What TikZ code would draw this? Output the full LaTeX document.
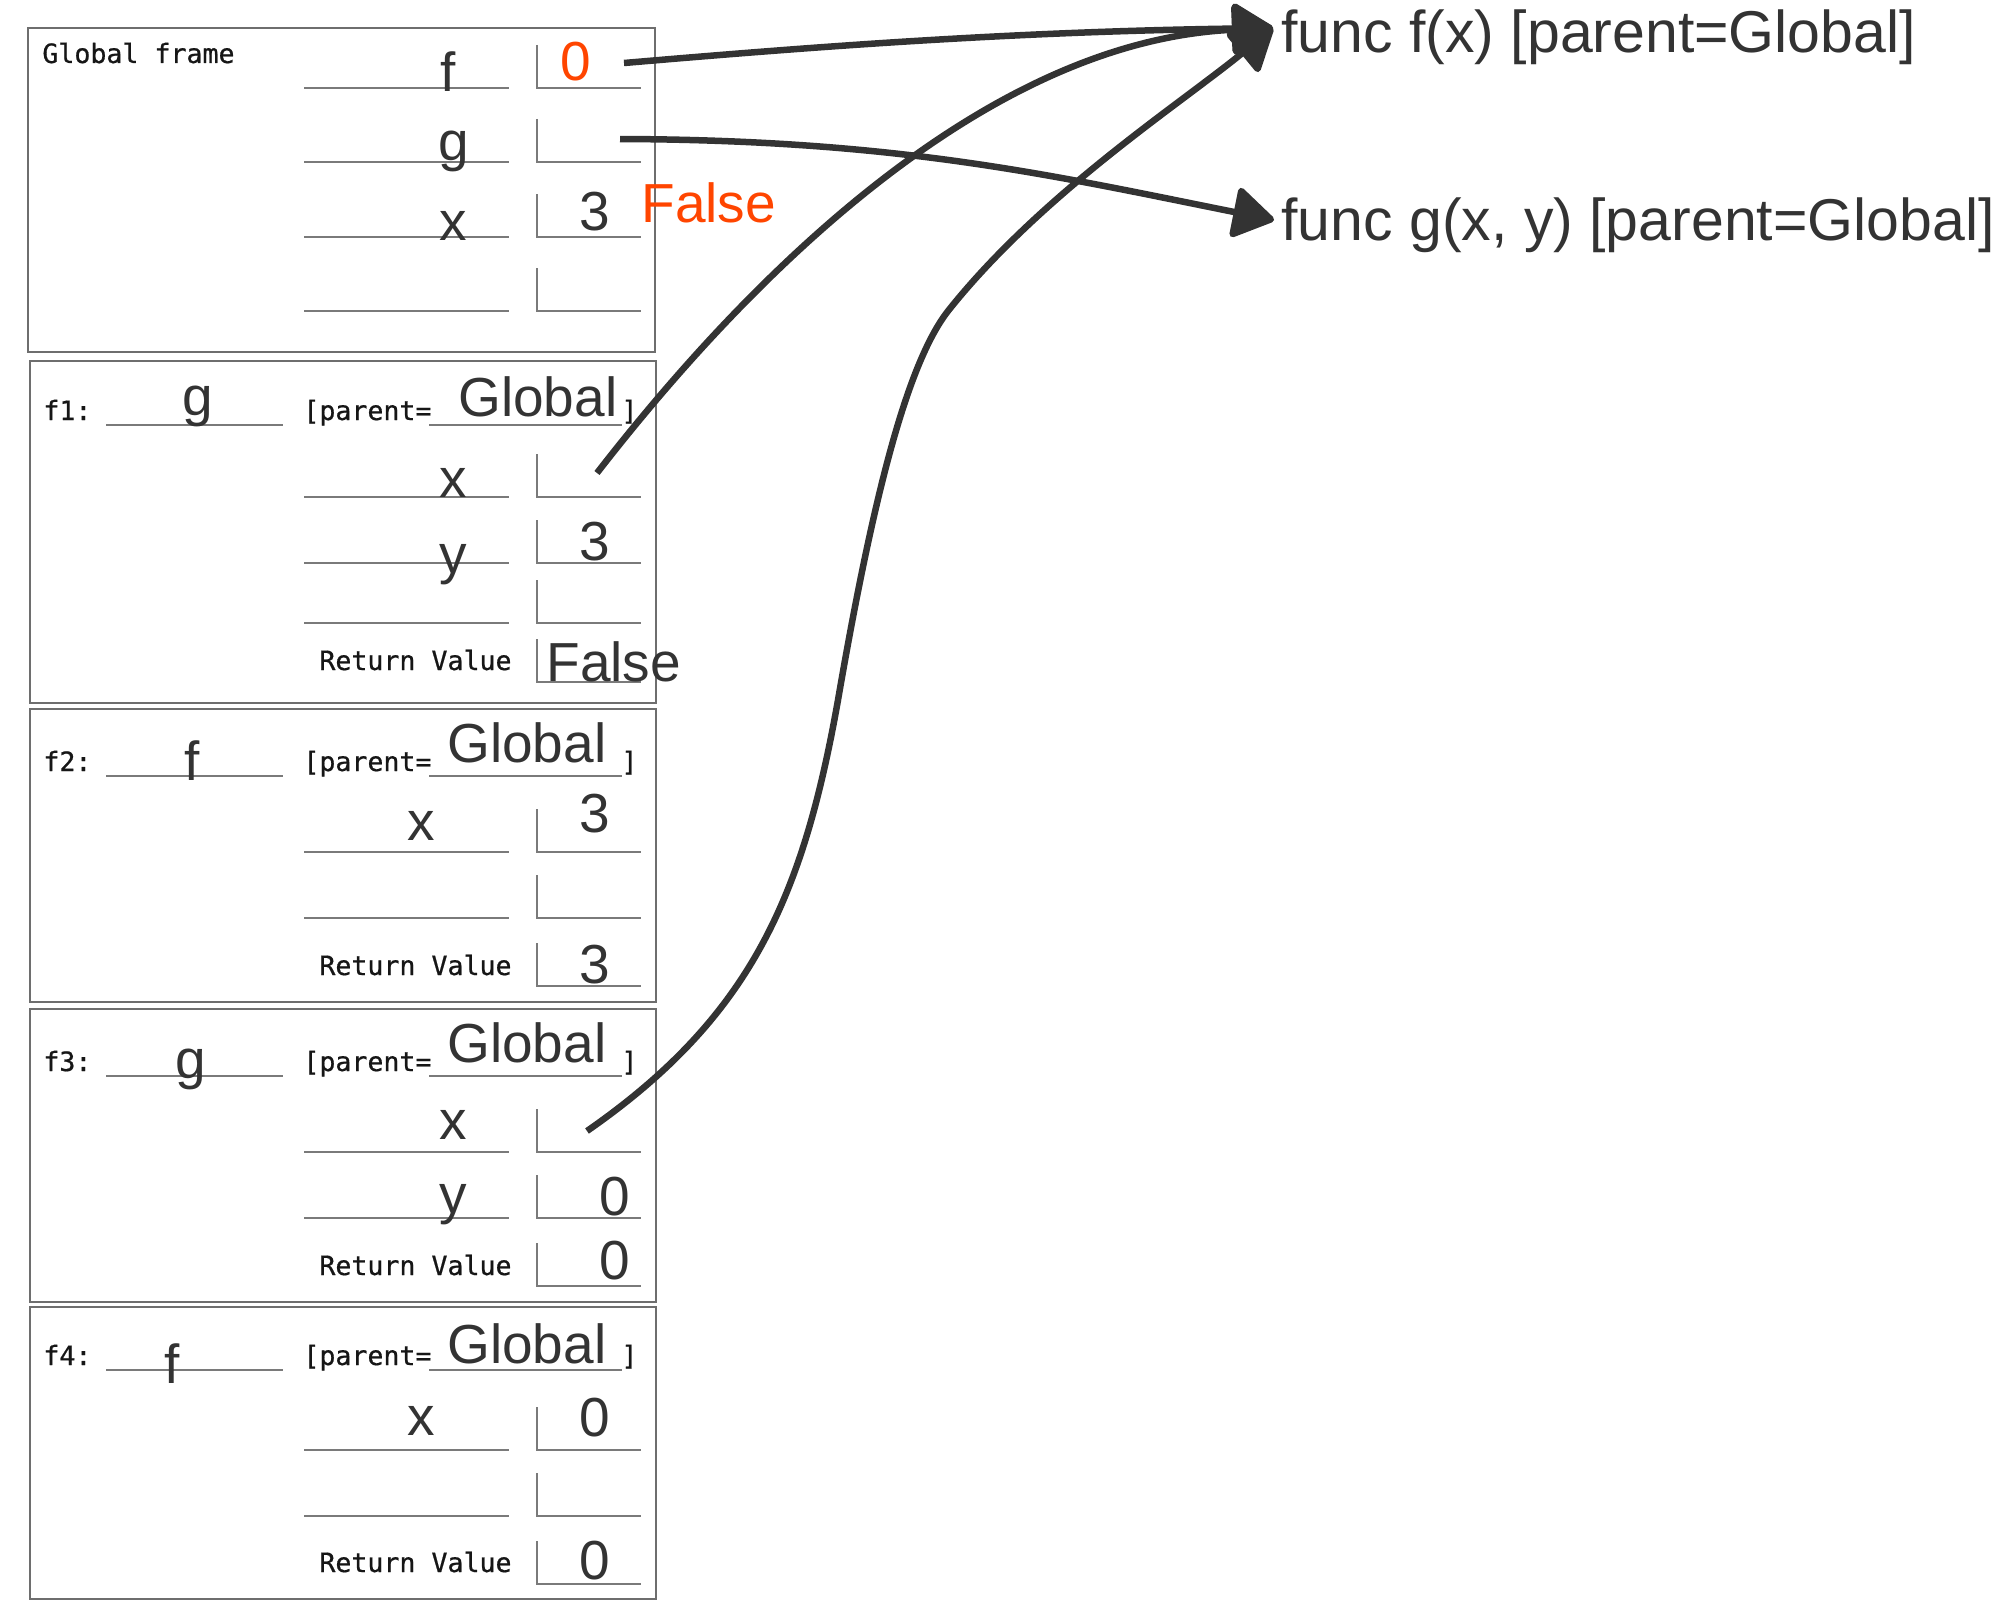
\documentclass[tikz,border=0pt]{standalone}
\usepackage{fontspec}
\usetikzlibrary{arrows.meta}
\newfontfamily\lsansfam{Liberation Sans}
\newfontfamily\dmonofam{DejaVu Sans Mono}[FakeBold=0.7]
\newcommand\bigtxt{\lsansfam\fontsize{27.5pt}{30pt}\selectfont}
\newcommand\functxt{\lsansfam\fontsize{29.5pt}{32pt}\selectfont}
\newcommand\monotxt{\dmonofam\fontsize{13.3pt}{15pt}\selectfont}
\definecolor{ink}{HTML}{333333}
\definecolor{redval}{HTML}{FF4500}
\definecolor{framegray}{HTML}{6E6E6E}
\definecolor{linegray}{HTML}{7A7A7A}
\definecolor{monoink}{HTML}{161616}
\newcommand\slotrow[1]{%
  \draw[uline] (304,#1) -- (509,#1);
  \draw[uline] (537,#1-43) -- (537,#1) -- (641,#1);}
\newcommand\retrow[1]{%
  \draw[uline] (537,#1-43) -- (537,#1) -- (641,#1);}
\newcommand\headrow[2]{%
  \node[mono] (#2lab) at (43,#1) {#2:};
  \draw[uline] (106,#1+5) -- (283,#1+5);
  \node[mono] (#2par) at (303,#1) {[parent=};
  \draw[uline] (429,#1+5) -- (622,#1+5);
  \node[mono] (#2brk) at (621,#1) {]};}
\begin{document}
\begin{tikzpicture}[x=0.5pt,y=-0.5pt,
  frame/.style={draw=framegray, line width=1pt},
  uline/.style={draw=linegray, line width=1.25pt},
  big/.style={font=\bigtxt, text=ink, inner sep=0pt, anchor=base},
  bigl/.style={big, anchor=base west},
  redtxt/.style={big, text=redval},
  mono/.style={font=\monotxt, text=monoink, inner sep=0pt, anchor=base west},
  functext/.style={font=\functxt, text=ink, inner sep=0pt, anchor=base west},
  ptr/.style={draw=ink, line width=3.25pt, -{Triangle[length=22pt,width=27pt,round]}}]
\useasboundingbox (0,0) rectangle (2006,1616);

% ---------- Global frame ----------
\draw[frame] (28,28) rectangle (655,352);
\node[mono] (gtitle) at (42,63) {Global frame};
\slotrow{88}
\slotrow{162}
\slotrow{237}
\slotrow{311}
\node[big] (gnf) at (448,92) {f};
\node[big] (gng) at (454,160) {g};
\node[big] (gnx) at (453,240) {x};
\node[redtxt] (gvf) at (576,81) {0};
\node[big] (gvx) at (595,230) {3};
\node[redtxt, anchor=base west] (gfalse) at (641,222) {False};

% ---------- f1 ----------
\draw[frame] (30,361) rectangle (656,703);
\headrow{420}{f1}
\node[big] (f1n) at (198,415) {g};
\node[bigl] (f1p) at (458,416) {Global};
\slotrow{497}
\slotrow{563}
\slotrow{623}
\retrow{682}
\node[big] (f1x) at (453,497) {x};
\node[big] (f1y) at (453,573) {y};
\node[big] (f1yv) at (595,560) {3};
\node[mono] (f1ret) at (319,670) {Return Value};
\node[bigl] (f1rv) at (546,681) {False};

% ---------- f2 ----------
\draw[frame] (30,709) rectangle (656,1002);
\headrow{771}{f2}
\node[big] (f2n) at (192,780) {f};
\node[bigl] (f2p) at (447,762) {Global};
\slotrow{852}
\slotrow{918}
\retrow{986}
\node[big] (f2x) at (421,840) {x};
\node[big] (f2xv) at (595,832) {3};
\node[mono] (f2ret) at (319,975) {Return Value};
\node[big] (f2rv) at (595,983) {3};

% ---------- f3 ----------
\draw[frame] (30,1009) rectangle (656,1302);
\headrow{1071}{f3}
\node[big] (f3n) at (191,1078) {g};
\node[bigl] (f3p) at (447,1062) {Global};
\slotrow{1152}
\slotrow{1218}
\retrow{1286}
\node[big] (f3x) at (453,1139) {x};
\node[big] (f3y) at (453,1213) {y};
\node[big] (f3yv) at (615,1215) {0};
\node[mono] (f3ret) at (319,1275) {Return Value};
\node[big] (f3rv) at (615,1279) {0};

% ---------- f4 ----------
\draw[frame] (30,1307) rectangle (656,1599);
\headrow{1365}{f4}
\node[big] (f4n) at (172,1383) {f};
\node[bigl] (f4p) at (447,1363) {Global};
\slotrow{1450}
\slotrow{1516}
\retrow{1584}
\node[big] (f4x) at (421,1435) {x};
\node[big] (f4xv) at (595,1436) {0};
\node[mono] (f4ret) at (319,1572) {Return Value};
\node[big] (f4rv) at (595,1579) {0};

% ---------- function objects ----------
\node[functext] (funcf) at (1281,53) {func f(x) [parent=Global]};
\node[functext] (funcg) at (1281,240) {func g(x, y) [parent=Global]};

% ---------- pointers ----------
\coordinate (pgf) at (624,63);
\coordinate (pgg) at (620,139);
\coordinate (pf1x) at (597,473);
\coordinate (pf3x) at (587,1131);
\coordinate (ftip) at (1273,28);
\coordinate (gtip) at (1274,220);
\coordinate (bend1) at (838,700);
\coordinate (bend2) at (948,311);

\draw[ptr] (pgf) .. controls (800,48) and (1000,32) .. (ftip);
\draw[ptr] (pgg) .. controls (900,140) and (1050,175) .. (gtip);
\draw[ptr] (pf1x) .. controls (770,250) and (1000,40) .. (ftip);
\draw[ptr] (pf3x) .. controls (751,1017) and (803,897) .. (bend1)
  .. controls (872,503) and (906,365) .. (bend2)
  .. controls (1041,194) and (1180,104) .. (ftip);
\end{tikzpicture}
\end{document}
